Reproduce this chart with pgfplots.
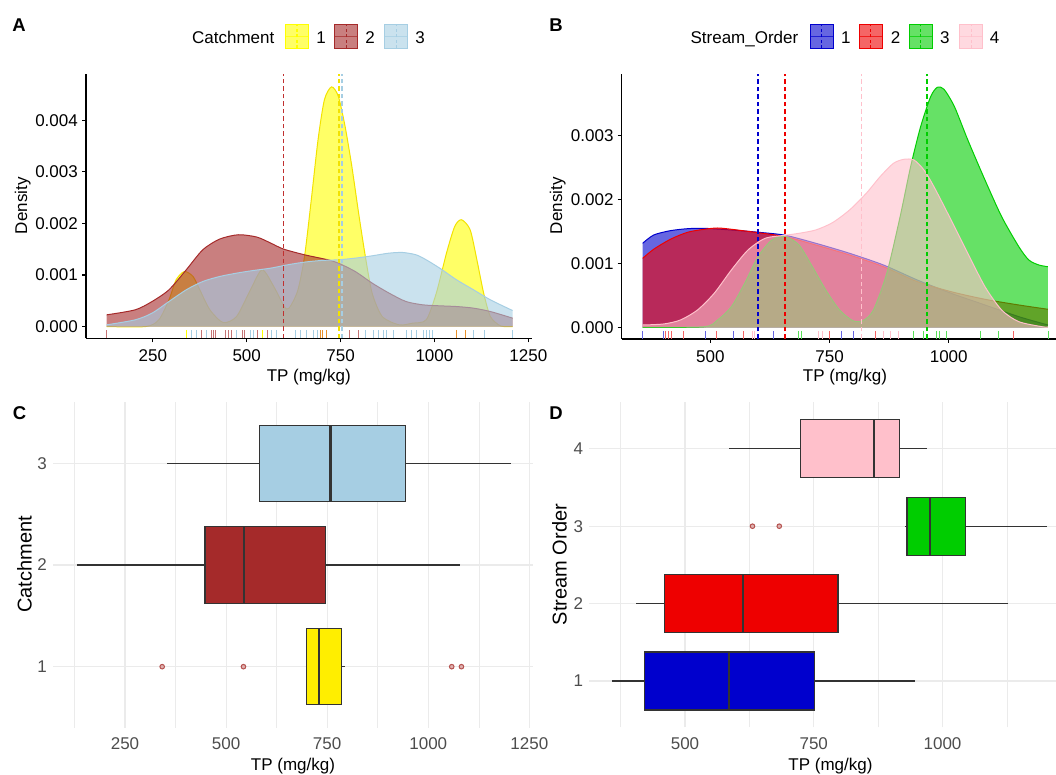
\documentclass[border=0pt]{standalone}
\usepackage{fontspec}
\setmainfont{Liberation Sans}
\usepackage{pgfplots}
\usepackage{pgfplotstable}
\pgfplotsset{compat=1.18}
\usepgfplotslibrary{statistics}

\definecolor{cA1}{HTML}{FFFF00}
\definecolor{cA1b}{HTML}{FFEE00}
\definecolor{cA1d}{HTML}{F2E200}
\definecolor{cA2}{HTML}{A52A2A}
\definecolor{cA2m}{HTML}{C03030}
\definecolor{cA3}{HTML}{A6CEE3}
\definecolor{cB1}{HTML}{0000CD}
\definecolor{cB2}{HTML}{EE0000}
\definecolor{cB3}{HTML}{00CD00}
\definecolor{cB4}{HTML}{FFC0CB}
\definecolor{gridc}{HTML}{EBEBEB}
\definecolor{g20}{HTML}{333333}
\definecolor{g30}{HTML}{4D4D4D}
\definecolor{outl}{HTML}{B5524F}
\definecolor{orng}{HTML}{E8902A}

\newcommand{\tl}{\fontsize{17}{17}\selectfont}
\newcommand{\ttl}{\fontsize{17}{20}\selectfont}

% Panel A densities (Catchment)
\pgfplotstableread{
x y
127 0.000000
231 0.000000
266 0.000130
293 0.000518
312 0.000906
334 0.001068
357 0.000971
375 0.000713
402 0.000324
437 0.000078
473 0.000194
510 0.000713
541 0.001101
572 0.000777
600 0.000388
613 0.000357
636 0.000700
654 0.001360
672 0.002460
690 0.003625
707 0.004402
726 0.004650
744 0.004466
762 0.003883
780 0.003107
798 0.002202
816 0.001359
834 0.000649
861 0.000194
906 0.000033
941 0.000065
978 0.000130
1005 0.000649
1032 0.001424
1054 0.001942
1072 0.002072
1095 0.001878
1113 0.001295
1131 0.000649
1149 0.000194
1176 0.000013
1208 0.000000
}\dAone
\pgfplotstableread{
x y
127 0.000227
203 0.000324
248 0.000486
293 0.000713
339 0.001101
383 0.001489
428 0.001697
478 0.001781
527 0.001736
564 0.001619
598 0.001503
654 0.001392
716 0.001295
744 0.001231
789 0.001068
834 0.000843
879 0.000649
924 0.000486
969 0.000421
1014 0.000402
1059 0.000388
1104 0.000357
1149 0.000291
1208 0.000163
}\dAtwo
\pgfplotstableread{
x y
127 0.000033
203 0.000130
248 0.000260
293 0.000486
339 0.000713
383 0.000874
428 0.000971
473 0.001036
518 0.001088
564 0.001133
609 0.001198
654 0.001250
699 0.001282
744 0.001295
789 0.001327
834 0.001372
879 0.001424
915 0.001437
951 0.001392
978 0.001295
1014 0.001133
1059 0.000906
1104 0.000713
1149 0.000518
1208 0.000311
}\dAthree

% Panel B densities (Stream order)
\pgfplotstableread{
x y
358 0.001315
381 0.001444
416 0.001512
452 0.001543
487 0.001549
544 0.001523
601 0.001487
657 0.001440
721 0.001315
792 0.001158
863 0.000975
934 0.000740
1005 0.000532
1076 0.000349
1147 0.000166
1208 0.000036
}\dBone
\pgfplotstableread{
x y
358 0.001080
381 0.001221
416 0.001377
452 0.001487
487 0.001534
515 0.001554
544 0.001534
601 0.001480
657 0.001418
721 0.001288
792 0.001131
863 0.000948
934 0.000714
1005 0.000557
1076 0.000438
1147 0.000349
1208 0.000282
}\dBtwo
\pgfplotstableread{
x y
358 0.000000
487 0.000009
515 0.000114
544 0.000322
572 0.000689
600 0.001105
629 0.001366
657 0.001418
686 0.001288
714 0.000948
742 0.000584
771 0.000271
799 0.000103
820 0.000103
842 0.000271
870 0.000845
898 0.001731
920 0.002513
941 0.003139
962 0.003609
976 0.003756
990 0.003725
1012 0.003452
1040 0.002931
1076 0.002305
1111 0.001731
1147 0.001261
1168 0.001053
1189 0.000975
1208 0.000948
}\dBthree
\pgfplotstableread{
x y
358 0.000036
402 0.000052
437 0.000114
473 0.000271
508 0.000532
544 0.000897
579 0.001210
615 0.001393
657 0.001440
686 0.001471
721 0.001523
756 0.001637
792 0.001836
827 0.002097
856 0.002357
884 0.002566
906 0.002629
927 0.002618
948 0.002462
969 0.002200
1005 0.001679
1040 0.001158
1076 0.000635
1111 0.000271
1147 0.000088
1196 0.000009
1208 0.000005
}\dBfour

\pgfplotsset{
  densax/.style={scale only axis, anchor=south west, axis lines*=left,
    axis line style={line width=1.1pt, black},
    tick style={line width=1.1pt, black},
    tick align=outside, major tick length=4pt, scaled ticks=false,
    xticklabel style={font=\tl, inner sep=0pt, anchor=north, yshift=-7pt},
    yticklabel style={font=\tl, inner sep=0pt, anchor=east, xshift=-4pt}},
  boxax/.style={scale only axis, anchor=south west,
    axis line style={draw=none}, major tick length=0pt, minor tick length=0pt,
    scaled ticks=false, grid=both,
    major grid style={gridc, line width=1.1pt},
    minor grid style={gridc, line width=0.55pt},
    xticklabel style={font=\tl, text=g30, inner sep=0pt, anchor=north, yshift=-10pt},
    yticklabel style={font=\tl, text=g30, inner sep=0pt, anchor=east, xshift=-6pt},
    boxplot/draw direction=x,
    boxplot/every median/.style={line width=2.3pt, g20}},
  rug/.style={only marks, mark=|, mark size=4pt, mark options={line width=1pt, draw=#1}},
  outl/.style={only marks, mark=*, mark size=2.3pt, mark options={draw=outl, fill=outl!45!white, line width=1pt}},
  dfill/.style={draw=none, fill=#1, fill opacity=0.6, smooth, tension=0.45},
  dline/.style={draw=#1, line width=1pt, smooth, tension=0.45},
  vmean/.style={draw=#1, color=#1, fill=none, mark=none, line width=1.8pt, dash pattern=on 4.5pt off 3pt}
}

\newcommand{\lkey}[3]{%
  \fill[#3, fill opacity=0.6] (#1,726.7) rectangle ++(23,23.3);
  \draw[#3, line width=0.5pt, opacity=0.7] (#1,738.35) -- ++(23,0);
  \draw[#3, line width=1.2pt, dash pattern=on 3pt off 2.5pt] (#2,726.7) -- ++(0,23.3);
  \draw[#3, line width=1pt] (#1,726.7) rectangle ++(23,23.3);
}

\begin{document}
\begin{tikzpicture}[x=1pt,y=1pt]
\path[use as bounding box] (0,0) rectangle (1056,775);
\clip (0,0) rectangle (1056,775);

% ---------------- Panel A ----------------
\begin{axis}[densax, at={(86pt,436.7pt)}, width=445.7pt, height=264.3pt,
  xmin=72, xmax=1259, ymin=-0.000228, ymax=0.0049,
  xtick={250,500,750,1000,1250}, xticklabels={250,500,750,1000,1250},
  ytick={0,0.001,0.002,0.003,0.004}, yticklabels={0.000,0.001,0.002,0.003,0.004}]
\addplot[dfill=cA1] table {\dAone} \closedcycle;
\addplot[dline=cA1d] table {\dAone};
\addplot[dfill=cA2] table {\dAtwo} \closedcycle;
\addplot[dline=cA2] table {\dAtwo};
\addplot[dfill=cA3] table {\dAthree} \closedcycle;
\addplot[dline=cA3] table {\dAthree};
\addplot[vmean=cA2m] coordinates {(598,-0.000228) (598,0.0049)};
\addplot[vmean=cA1d] coordinates {(745,-0.000228) (745,0.0049)};
\addplot[vmean=cA3] coordinates {(754,-0.000228) (754,0.0049)};
\addplot[rug=cA2!65!white] coordinates {(127.5,-0.000148) (378.6,-0.000148) (405.2,-0.000148) (411.4,-0.000148) (415.9,-0.000148) (442.5,-0.000148) (451.4,-0.000148) (460.3,-0.000148) (488.6,-0.000148) (493.9,-0.000148) (529.5,-0.000148) (556.2,-0.000148) (773.5,-0.000148) (797.5,-0.000148)};
\addplot[rug=cA1] coordinates {(340.5,-0.000148) (542.8,-0.000148)};
\addplot[rug=cA3] coordinates {(353.8,-0.000148) (365.3,-0.000148) (391.9,-0.000148) (473.6,-0.000148) (509,-0.000148) (517.9,-0.000148) (565,-0.000148) (580.1,-0.000148) (628.9,-0.000148) (642.2,-0.000148) (660,-0.000148) (677.6,-0.000148) (688.3,-0.000148) (815.2,-0.000148) (837.4,-0.000148) (850.7,-0.000148) (864,-0.000148) (873,-0.000148) (890.6,-0.000148) (926.2,-0.000148) (939.6,-0.000148) (951,-0.000148) (970.5,-0.000148) (979.5,-0.000148) (985.6,-0.000148) (994.5,-0.000148) (1103.6,-0.000148) (1132.9,-0.000148) (1208.5,-0.000148)};
\addplot[rug=orng] coordinates {(695.4,-0.000148) (702.6,-0.000148) (713.3,-0.000148) (1059.4,-0.000148) (1083.3,-0.000148)};
\end{axis}

% ---------------- Panel B ----------------
\begin{axis}[densax, at={(621.7pt,436pt)}, width=446.7pt, height=265pt,
  xmin=314, xmax=1251, ymin=-0.000183, ymax=0.003964,
  xtick={500,750,1000}, xticklabels={500,750,1000},
  ytick={0,0.001,0.002,0.003}, yticklabels={0.000,0.001,0.002,0.003}]
\addplot[dfill=cB1] table {\dBone} \closedcycle;
\addplot[dline=cB1] table {\dBone};
\addplot[dfill=cB2] table {\dBtwo} \closedcycle;
\addplot[dline=cB2] table {\dBtwo};
\addplot[dfill=cB3] table {\dBthree} \closedcycle;
\addplot[dline=cB3] table {\dBthree};
\addplot[dfill=cB4] table {\dBfour} \closedcycle;
\addplot[dline=cB4] table {\dBfour};
\addplot[vmean=cB1] coordinates {(600.5,-0.000183) (600.5,0.003964)};
\addplot[vmean=cB2] coordinates {(657,-0.000183) (657,0.003964)};
\addplot[vmean=cB4] coordinates {(817,-0.000183) (817,0.003964)};
\addplot[vmean=cB3] coordinates {(955,-0.000183) (955,0.003964)};
\addplot[rug=cB1!60!white] coordinates {(356.7,-0.00012) (400.8,-0.00012) (490.2,-0.00012) (548.9,-0.00012) (631.5,-0.00012) (774.2,-0.00012) (799.3,-0.00012)};
\addplot[rug=cB2!60!white] coordinates {(406.2,-0.00012) (411.3,-0.00012) (417.6,-0.00012) (444,-0.00012) (512.6,-0.00012) (569.9,-0.00012) (750.3,-0.00012) (846.1,-0.00012) (1135,-0.00012)};
\addplot[rug=cB3!65!white] coordinates {(684,-0.00012) (690.9,-0.00012) (926.5,-0.00012) (946.2,-0.00012) (974.1,-0.00012) (981.1,-0.00012) (995,-0.00012) (1066.4,-0.00012) (1104.8,-0.00012) (1208.4,-0.00012)};
\addplot[rug=cB4] coordinates {(587.5,-0.00012) (592.3,-0.00012) (727.2,-0.00012) (734.3,-0.00012) (862.3,-0.00012) (877.6,-0.00012) (895,-0.00012)};
\end{axis}

% ---------------- Panel C ----------------
\begin{axis}[boxax, at={(53pt,47.3pt)}, width=480pt, height=325.4pt,
  xmin=72, xmax=1259, ymin=0.4, ymax=3.6,
  xtick={250,500,750,1000,1250}, xticklabels={250,500,750,1000,1250},
  minor xtick={125,375,625,875,1125},
  ytick={1,2,3}, yticklabels={1,2,3}]
\addplot[fill=cA1b, draw=g20, line width=1.1pt, boxplot prepared={draw position=1, lower whisker=697, lower quartile=698, median=729, upper quartile=785, upper whisker=794, box extend=0.75, whisker extend=0}] coordinates {};
\addplot[fill=cA2, draw=g20, line width=1.1pt, boxplot prepared={draw position=2, lower whisker=131, lower quartile=448, median=545, upper quartile=746, upper whisker=1079, box extend=0.75, whisker extend=0}] coordinates {};
\addplot[fill=cA3, draw=g20, line width=1.1pt, boxplot prepared={draw position=3, lower whisker=355, lower quartile=582, median=758, upper quartile=944, upper whisker=1205, box extend=0.75, whisker extend=0}] coordinates {};
\addplot[outl] coordinates {(342,1) (543,1) (1058,1) (1082,1)};
\end{axis}

% ---------------- Panel D ----------------
\begin{axis}[boxax, at={(589.2pt,47.6pt)}, width=482.6pt, height=325pt,
  xmin=314, xmax=1251, ymin=0.4, ymax=4.6,
  xtick={500,750,1000}, xticklabels={500,750,1000},
  minor xtick={375,625,875,1125},
  ytick={1,2,3,4}, yticklabels={1,2,3,4}]
\addplot[fill=cB1, draw=g20, line width=1.1pt, boxplot prepared={draw position=1, lower whisker=358, lower quartile=421, median=586, upper quartile=751, upper whisker=947, box extend=0.75, whisker extend=0}] coordinates {};
\addplot[fill=cB2, draw=g20, line width=1.1pt, boxplot prepared={draw position=2, lower whisker=405, lower quartile=460, median=613, upper quartile=797, upper whisker=1127, box extend=0.75, whisker extend=0}] coordinates {};
\addplot[fill=cB3, draw=g20, line width=1.1pt, boxplot prepared={draw position=3, lower whisker=927, lower quartile=931, median=975, upper quartile=1045, upper whisker=1203, box extend=0.75, whisker extend=0}] coordinates {};
\addplot[fill=cB4, draw=g20, line width=1.1pt, boxplot prepared={draw position=4, lower whisker=585, lower quartile=725, median=867, upper quartile=916, upper whisker=970, box extend=0.75, whisker extend=0}] coordinates {};
\addplot[outl] coordinates {(631,3) (683,3)};
\end{axis}

% ---------------- Labels ----------------
\node[font=\bfseries\fontsize{18.5}{20}\selectfont] at (19,750) {A};
\node[font=\bfseries\fontsize{18.5}{20}\selectfont] at (556,750) {B};
\node[font=\bfseries\fontsize{18.5}{20}\selectfont] at (19.6,362.3) {C};
\node[font=\bfseries\fontsize{18.5}{20}\selectfont] at (556,362.3) {D};

\node[font=\ttl, anchor=base, inner sep=0pt] at (308.8,393.3) {TP (mg/kg)};
\node[font=\ttl, anchor=base, inner sep=0pt] at (845,393.3) {TP (mg/kg)};
\node[font=\ttl, anchor=base, inner sep=0pt] at (293,4.3) {TP (mg/kg)};
\node[font=\ttl, anchor=base, inner sep=0pt] at (830.5,4.3) {TP (mg/kg)};
\node[font=\ttl, rotate=90, anchor=base, inner sep=0pt] at (27.2,569.3) {Density};
\node[font=\ttl, rotate=90, anchor=base, inner sep=0pt] at (562,569.3) {Density};
\node[font=\fontsize{20}{22}\selectfont, rotate=90, anchor=base, inner sep=0pt] at (31.5,210.5) {Catchment};
\node[font=\fontsize{20}{22}\selectfont, rotate=90, anchor=base, inner sep=0pt] at (566.5,210.5) {Stream Order};

% Legend A
\node[font=\ttl, anchor=base east, inner sep=0pt] at (274.5,731) {Catchment};
\lkey{285.7}{297}{cA1}
\lkey{334.7}{346.2}{cA2}
\lkey{384.7}{396.2}{cA3}
\node[font=\ttl, anchor=base, inner sep=0pt] at (321.2,731) {1};
\node[font=\ttl, anchor=base, inner sep=0pt] at (370.2,731) {2};
\node[font=\ttl, anchor=base, inner sep=0pt] at (420.2,731) {3};

% Legend B
\node[font=\ttl, anchor=base east, inner sep=0pt] at (798.5,731) {Stream\_Order};
\lkey{810.3}{821.8}{cB1}
\lkey{859.3}{870.8}{cB2}
\lkey{909.3}{920.8}{cB3}
\lkey{959.7}{971.2}{cB4}
\node[font=\ttl, anchor=base, inner sep=0pt] at (845.8,731) {1};
\node[font=\ttl, anchor=base, inner sep=0pt] at (895.5,731) {2};
\node[font=\ttl, anchor=base, inner sep=0pt] at (944.8,731) {3};
\node[font=\ttl, anchor=base, inner sep=0pt] at (994.5,731) {4};
\end{tikzpicture}
\end{document}
